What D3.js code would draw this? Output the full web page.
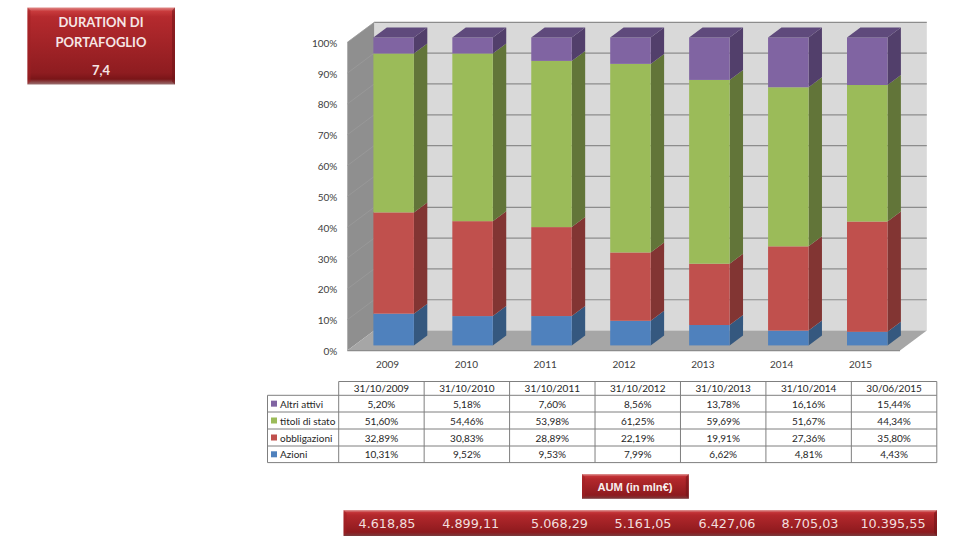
<!DOCTYPE html>
<html><head><meta charset="utf-8">
<script src="https://cdn.jsdelivr.net/npm/d3@7/dist/d3.min.js"></script>
<style>html,body{margin:0;padding:0;background:#fff}svg{display:block}</style>
</head><body><svg id="c" width="953" height="545"></svg>
<script>
const years=["2009","2010","2011","2012","2013","2014","2015"];
const dates=["31/10/2009","31/10/2010","31/10/2011","31/10/2012","31/10/2013","31/10/2014","30/06/2015"];
const azioni=[10.31,9.52,9.53,7.99,6.62,4.81,4.43];
const obbligazioni=[32.89,30.83,28.89,22.19,19.91,27.36,35.80];
const titoli=[51.60,54.46,53.98,61.25,59.69,51.67,44.34];
const altri=[5.20,5.18,7.60,8.56,13.78,16.16,15.44];
const aum=["4.618,85","4.899,11","5.068,29","5.161,05","6.427,06","8.705,03","10.395,55"];
const seriesNames=["Azioni","obbligazioni","titoli di stato","Altri attivi"];
const seriesValues=[azioni,obbligazioni,titoli,altri];
const faces=[["#4f81bd","#35587f"],["#c0504d","#823533"],["#9bbb59","#627539"],["#8064a2","#523f6b"]];
const capColor="#5f4a7c";
const ticks=[0,10,20,30,40,50,60,70,80,90,100];
const fmt=v=>v.toFixed(2).replace(".",",")+"%";

const svg=d3.select("#c");
const defs=svg.append("defs");
function grad(id,stops){
  const g=defs.append("linearGradient").attr("id",id).attr("x1",0).attr("x2",0).attr("y1",0).attr("y2",1);
  stops.forEach(s=>g.append("stop").attr("offset",s[0]).attr("stop-color",s[1]));
}
grad("red",[[0,"#e08a88"],[0.05,"#c83a3c"],[0.12,"#b52a2e"],[0.85,"#8e1c20"],[0.93,"#7a1518"],[1,"#9a7070"]]);
grad("redSmall",[[0,"#e09a98"],[0.1,"#c23236"],[0.2,"#b3282c"],[0.85,"#8e1a1e"],[1,"#7a3a3c"]]);

// 3D frame geometry
const fx0=347.3,bx0=374.2,fx1=900,bx1=926.8;
const yF=d3.scaleLinear().domain([0,100]).range([350.6,42.3]);
const yB=d3.scaleLinear().domain([0,100]).range([330.6,22.3]);
const poly=(pts,fill)=>svg.append("polygon").attr("points",pts.map(p=>p.join(",")).join(" ")).attr("fill",fill);

poly([[bx0,yB(0)],[bx1,yB(0)],[bx1,yB(100)],[bx0,yB(100)]],"#d9d9d9");
poly([[fx0,yF(0)],[bx0,yB(0)],[bx0,yB(100)],[fx0,yF(100)]],"#8f8f8f");
poly([[fx0,yF(0)],[fx1,yF(0)],[bx1,yB(0)],[bx0,yB(0)]],"#a6a6a6");

svg.append("g").selectAll("line").data(ticks.filter(t=>t>0)).join("line")
  .attr("x1",bx0).attr("x2",bx1).attr("y1",d=>yB(d)).attr("y2",d=>yB(d))
  .attr("stroke","#8c8c8c").attr("stroke-width",1.2);
svg.append("g").selectAll("line").data(ticks.filter(t=>t>0)).join("line")
  .attr("x1",fx0).attr("x2",bx0).attr("y1",d=>yF(d)).attr("y2",d=>yB(d))
  .attr("stroke","#9a9a9a").attr("stroke-width",0.8);
svg.append("line").attr("x1",fx0).attr("x2",fx1).attr("y1",yF(0)).attr("y2",yF(0)).attr("stroke","#8c8c8c").attr("stroke-width",1.2);

// stacked bars
const barX=d3.scalePoint().domain(years).range([373.4,847]);
const barW=40.5,dx=13.4,dy=10;
const yBar=d3.scaleLinear().domain([0,100]).range([345.4,37.5]);
const rows=years.map((y,i)=>{const o={year:y};seriesNames.forEach((n,k)=>o[n]=seriesValues[k][i]);return o;});
const stacked=d3.stack().keys(seriesNames)(rows);
const gBars=svg.append("g");
stacked.forEach((s,k)=>{
  s.forEach(d=>{
    const X=barX(d.data.year),y0=yBar(d[0]),y1=yBar(d[1]);
    gBars.append("polygon").attr("points",[[X+barW,y0],[X+barW+dx,y0-dy],[X+barW+dx,y1-dy],[X+barW,y1]].join(" ")).attr("fill",faces[k][1]);
    gBars.append("rect").attr("x",X).attr("y",y1).attr("width",barW).attr("height",y0-y1).attr("fill",faces[k][0]);
  });
});
stacked[3].forEach(d=>{
  const X=barX(d.data.year),y1=yBar(d[1]);
  gBars.append("polygon").attr("points",[[X,y1],[X+dx,y1-dy],[X+barW+dx,y1-dy],[X+barW,y1]].join(" ")).attr("fill",capColor);
});

// axes
const font="Lato, 'Open Sans', sans-serif";
const yAxis=d3.axisLeft(yF).tickValues(ticks).tickFormat(d=>d+"%").tickSize(0).tickPadding(0);
const ga=svg.append("g").attr("transform","translate(337.3,0.7)").call(yAxis);
ga.select(".domain").remove();
ga.selectAll("text").attr("font-family",font).attr("font-size",10).attr("fill","#404040");
const xLab=d3.scalePoint().domain(years).range([387,860]);
const gx=svg.append("g").attr("transform","translate(0,360.5)").call(d3.axisBottom(xLab).tickSize(0).tickPadding(0));
gx.select(".domain").remove();
gx.selectAll("text").attr("font-family",font).attr("font-size",10).attr("fill","#404040");

// table
const colX=d3.scaleLinear().domain([0,7]).range([338.7,936.8]);
const rowY=[381.5,395.3,412,429,446,462.6];
const tableRows=[[3,"#8064a2"],[2,"#9bbb59"],[1,"#c0504d"],[0,"#4f81bd"]];
const tb=svg.append("g");
const ln="#7f7f7f";
const seg=(a,b,c,d)=>tb.append("line").attr("x1",a).attr("y1",b).attr("x2",c).attr("y2",d).attr("stroke",ln).attr("stroke-width",1);
seg(colX(0),rowY[0],colX(7),rowY[0]);
rowY.slice(1).forEach(y=>seg(267.5,y,colX(7),y));
d3.range(8).forEach(i=>seg(colX(i),rowY[0],colX(i),rowY[5]));
seg(267.5,rowY[1],267.5,rowY[5]);
const T=(s,px,py,anc)=>tb.append("text").text(s).attr("x",px).attr("y",py).attr("text-anchor",anc||"middle")
  .attr("dominant-baseline","central").attr("font-family",font).attr("font-size",10).attr("fill","#262626");
dates.forEach((d,i)=>T(d,(colX(i)+colX(i+1))/2,(rowY[0]+rowY[1])/2));
tableRows.forEach((r,j)=>{
  const yc=(rowY[j+1]+rowY[j+2])/2;
  tb.append("rect").attr("x",271).attr("y",yc-3).attr("width",6).attr("height",6).attr("fill",r[1]);
  T(seriesNames[r[0]],280,yc,"start");
  seriesValues[r[0]].forEach((v,i)=>T(fmt(v),(colX(i)+colX(i+1))/2,yc));
});

// boxes
function box(x0,y0,x1,y1,g){
  svg.append("rect").attr("x",x0).attr("y",y0).attr("width",x1-x0).attr("height",y1-y0).attr("fill",`url(#${g})`);
  svg.append("polygon").attr("points",[[x0,y0],[x0+3,y0+3],[x0+3,y1-3],[x0,y1]].join(" ")).attr("fill","#a02024").attr("opacity",0.55);
  svg.append("polygon").attr("points",[[x1,y0],[x1-3,y0+3],[x1-3,y1-3],[x1,y1]].join(" ")).attr("fill","#701418").attr("opacity",0.55);
}
box(27.5,7.5,175,84.5,"red");
const bt=(s,px,py,size,fam,col)=>svg.append("text").text(s).attr("x",px).attr("y",py).attr("text-anchor","middle")
  .attr("dominant-baseline","central").attr("font-family",fam).attr("font-size",size).attr("font-weight","bold").attr("fill",col);
bt("DURATION DI",101,22,13,font,"#f6e6e6");
bt("PORTAFOGLIO",101,41.5,13,font,"#f6e6e6");
bt("7,4",101,70,13,font,"#f6e6e6");
box(582,474,688.8,498.8,"redSmall");
bt("AUM (in mln€)",635,486.5,11.2,"'Liberation Sans', Arial, sans-serif","#f8eeee");
box(343.6,510,937,536,"redSmall");
const aumX=d3.scaleOrdinal().domain(years).range([387,470.7,559.5,643,727,810,893]);
aum.forEach((v,i)=>svg.append("text").text(v).attr("x",aumX(years[i])).attr("y",523.5).attr("text-anchor","middle")
  .attr("dominant-baseline","central").attr("font-family","'DejaVu Sans', Verdana, sans-serif").attr("font-size",12.8).attr("fill","#f2dede"));
</script></body></html>
